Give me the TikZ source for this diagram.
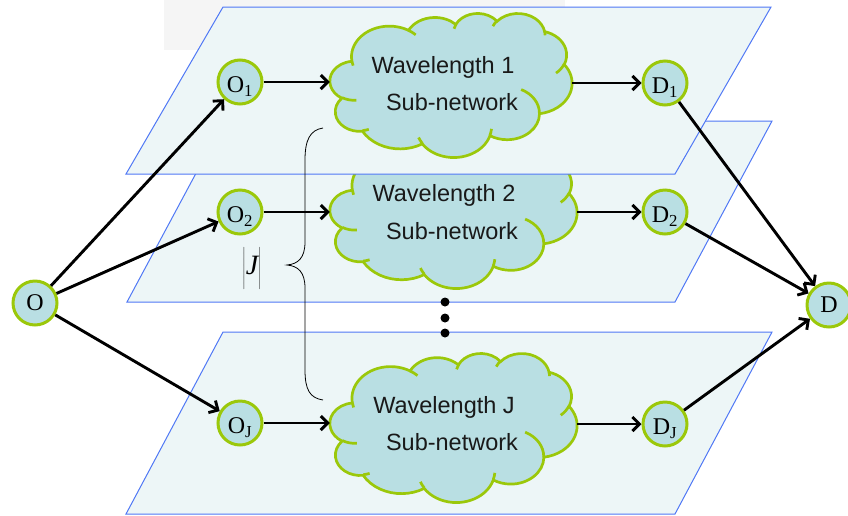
\documentclass[tikz,border=0pt]{standalone}
\usepackage{fontspec}
\setmainfont{Liberation Serif}
\newfontfamily\cloudfont{Liberation Sans}
\usetikzlibrary{arrows.meta}

\definecolor{planefill}{RGB}{237,246,247}
\definecolor{planeedge}{RGB}{80,120,245}
\definecolor{nodefill}{RGB}{185,223,227}
\definecolor{nodeedge}{RGB}{155,200,10}
\definecolor{topgray}{RGB}{245,245,245}

% elliptic arc given by radii, start angle and sweep (visual angles, degrees)
\newcommand\pparc[4]{arc[x radius=#1, y radius=#2,
  start angle={atan2(#1*sin(#3),#2*cos(#3))},
  delta angle={mod(atan2(#1*sin(#3+#4),#2*cos(#3+#4))-atan2(#1*sin(#3),#2*cos(#3))+720,360)}]}

% cloud outline in a 43.2 x 43.2 box: #1 name, #2,#3 top-left corner, #4 width, #5 height
\newcommand\wavecloud[5]{%
  \begin{scope}[shift={(#2,#3)}, x=#4pt/43.2, y=-#5pt/43.2]
    \filldraw[cloudshape] (3.9,14.37)
      \pparc{6.753}{9.190}{-190.4875}{123.7805}
      \pparc{5.333}{7.267}{-144.1024}{89.9452}
      \pparc{4.365}{5.945}{-145.8079}{99.7230}
      \pparc{4.857}{6.595}{-130.9861}{117.2417}
      \pparc{5.333}{7.273}{-78.7089}{109.0269}
      \pparc{6.775}{9.220}{-46.2673}{130.2690}
      \pparc{5.785}{7.867}{0.6250}{114.0333}
      \pparc{6.752}{9.215}{22.4516}{115.1726}
      \pparc{7.720}{10.543}{66.2426}{75.7110}
      \pparc{4.360}{5.918}{-274.9421}{146.7356}
      \pparc{4.345}{5.945}{-246.8285}{152.5189} -- cycle;
    \draw[cloudline]
      (4.693,26.177) \pparc{4.345}{5.945}{86.7420}{26.4295}
      (6.928,34.899) \pparc{4.360}{5.918}{73.6105}{11.4475}
      (16.478,39.090) \pparc{6.752}{9.215}{137.6242}{14.0811}
      (28.827,34.751) \pparc{6.752}{9.215}{6.4533}{15.9984}
      (34.129,22.954) \pparc{5.785}{7.867}{-70.2924}{70.9174}
      (41.798,15.354) \pparc{5.333}{7.273}{30.3180}{27.7515}
      (38.324,5.426) \pparc{4.857}{6.595}{-13.7443}{14.8589}
      (29.078,3.952) \pparc{4.857}{6.595}{-149.1815}{18.1954}
      (22.141,4.720) \pparc{4.365}{5.945}{-163.4943}{17.6864}
      (14.000,5.192) \pparc{6.753}{9.190}{-66.7070}{12.3194}
      (4.127,15.789) \pparc{6.753}{9.190}{157.6544}{11.8582};
    \node[inner sep=0pt, minimum width=#4pt, minimum height=#5pt] (#1) at (21.6,21.6) {};
  \end{scope}}

\begin{document}
\begin{tikzpicture}[x=1pt, y=-1pt,
  plane/.style={fill=planefill, draw=planeedge, line width=1pt, line join=miter},
  cloudshape/.style={fill=nodefill, draw=nodeedge, line width=2.7pt},
  cloudline/.style={draw=nodeedge, line width=2.7pt},
  cloudtext/.style={anchor=base, inner sep=0pt, font=\cloudfont\fontsize{23.5}{23.5}\selectfont, text=black!90},
  station/.style={circle, draw=nodeedge, fill=nodefill, line width=3pt, minimum size=44pt,
    inner sep=0pt, font=\fontsize{24}{24}\selectfont},
  sub/.style={text height=21pt, text depth=0pt},
  arr/.style={line width=2.9pt, -{Straight Barb[length=7pt, width=14pt]}},
  dotmark/.style={fill=black}]
\useasboundingbox (0,0) rectangle (848,515);

% faint backdrop strip along the top
\fill[topgray] (164,0) rectangle (565,50);

% stacked sub-network planes, back to front, each with its cloud
\path[plane] (223,332) -- (772,332) -- (675,514) -- (126,514) -- cycle;
\wavecloud{cJ}{330}{353}{247}{149}
\path[plane] (224,121) -- (772,121) -- (675,302) -- (127,302) -- cycle;
\wavecloud{c2}{330}{141}{247}{147}
\path[plane] (223,7) -- (771,7) -- (675,174) -- (126,174) -- cycle;
\wavecloud{c1}{330}{13}{242}{144}

% cloud captions
\node[cloudtext] (t1a) at (443,73.5) {Wavelength 1};
\node[cloudtext] (t1b) at (452,110) {Sub-network};
\node[cloudtext] (t2a) at (444,201.5) {Wavelength 2};
\node[cloudtext] (t2b) at (452,239) {Sub-network};
\node[cloudtext] (tJa) at (444,413.5) {Wavelength J};
\node[cloudtext] (tJb) at (452,450) {Sub-network};

% vertical ellipsis between the planes
\fill[dotmark] (445,302) circle[radius=4.5];
\fill[dotmark] (445,318) circle[radius=4.5];
\fill[dotmark] (445,333) circle[radius=4.5];

% brace with the |J| label
\draw[line width=0.8pt] (323,128) .. controls (310,130) and (305,140) .. (305,160)
  -- (305,242) .. controls (305,258) and (298,264) .. (287,265)
  .. controls (298,266) and (305,272) .. (305,288)
  -- (305,370) .. controls (305,390) and (310,398) .. (323,400);
\node[font=\fontsize{28}{28}\selectfont, inner sep=0pt] (jlabel) at (252,268)
  {$\left|\vrule height 28pt depth 0pt width 0pt\mbox{\itshape J}\right|$};

% source, destination and per-wavelength end points
\node[station] (o) at (35,303) {O};
\node[station, sub] (o1) at (240,82) {O\textsubscript{1}};
\node[station, sub] (o2) at (240,212) {O\textsubscript{2}};
\node[station, sub] (oJ) at (240,423) {O\textsubscript{J}};
\node[station, sub] (d1) at (665,83) {D\textsubscript{1}};
\node[station, sub] (d2) at (665,212) {D\textsubscript{2}};
\node[station, sub] (dJ) at (665,424) {D\textsubscript{J}};
\node[station] (d) at (829,305) {D};

% connectors
\draw[arr] (o) -- (o1);
\draw[arr] (o) -- (o2);
\draw[arr] (o) -- (oJ);
\draw[arr] (o1) -- (o1 -| c1.west);
\draw[arr] (o2) -- (o2 -| c2.west);
\draw[arr] (oJ) -- (oJ -| cJ.west);
\draw[arr] (c1.east |- d1) -- (d1);
\draw[arr] (c2.east |- d2) -- (d2);
\draw[arr] (cJ.east |- dJ) -- (dJ);
\draw[arr] (d1) -- (d);
\draw[arr] (d2) -- (d);
\draw[arr] (dJ) -- (d);
\end{tikzpicture}
\end{document}
